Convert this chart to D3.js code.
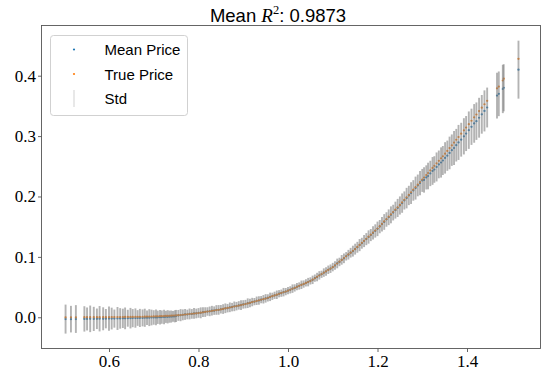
<!DOCTYPE html>
<html><head><meta charset="utf-8">
<script src="https://cdn.jsdelivr.net/npm/d3@7"></script>
<style>html,body{margin:0;padding:0;background:#fff}</style>
</head><body>
<script>
// ---- data ----
const xs = [
0.503,0.515,0.526,0.545,0.551,0.558,0.566,0.573,0.579,0.587,
0.593,0.600,0.606,0.612,0.619,0.625,0.631,0.636,0.642,0.648,
0.653,0.659,0.664,0.669,0.675,0.680,0.685,0.690,0.695,0.700,
0.705,0.709,0.714,0.718,0.723,0.727,0.731,0.735,0.739,0.743,
0.747,
0.750,0.755,0.760,0.765,0.770,0.775,0.780,0.785,0.790,0.795,
0.800,0.805,0.810,0.815,0.820,0.825,0.830,0.835,0.840,0.845,
0.850,0.855,0.860,0.865,0.870,0.875,0.880,0.885,0.890,0.895,
0.900,0.905,0.910,0.915,0.920,0.925,0.930,0.935,0.940,0.945,
0.950,0.955,0.960,0.965,0.970,0.975,0.980,0.985,0.990,0.995,
1.000,1.005,1.010,1.015,1.020,1.025,1.030,1.035,1.040,1.045,
1.050,1.055,1.060,1.065,1.070,1.075,1.080,1.085,1.090,1.095,
1.100,1.105,1.110,1.115,1.120,1.125,1.130,1.135,1.140,1.145,
1.150,1.155,1.160,1.165,1.170,1.175,1.180,1.185,1.190,1.195,
1.200,1.205,1.210,1.215,1.220,1.225,1.230,1.235,1.240,1.245,
1.250,1.255,1.260,1.265,1.270,1.275,1.280,1.285,1.290,1.295,
1.300,
1.304,1.309,1.313,1.318,1.323,1.327,1.332,1.337,1.342,1.346,
1.351,1.356,1.361,1.366,1.371,1.376,1.381,1.387,1.393,1.398,
1.404,1.410,1.416,1.421,1.427,1.433,1.439,1.445,
1.467,1.471,1.480,1.482,1.515
];
const truePrice = [
0,0,0,0.0001,0.0001,0.0001,0.0001,0.0001,0.0002,0.0002,
0.0002,0.0002,0.0003,0.0003,0.0003,0.0004,0.0004,0.0005,0.0005,0.0006,
0.0006,0.0007,0.0008,0.0008,0.0009,0.0010,0.0011,0.0012,0.0013,0.0014,
0.0015,0.0016,0.0018,0.0019,0.0020,0.0022,0.0023,0.0025,0.0026,0.0028,
0.0029,
0.0030,0.0034,0.0038,0.0042,0.0046,0.0050,0.0054,0.0058,0.0062,0.0066,
0.0070,0.0076,0.0082,0.0088,0.0094,0.0100,0.0106,0.0112,0.0118,0.0124,
0.0130,0.0138,0.0146,0.0154,0.0162,0.0170,0.0178,0.0186,0.0194,0.0202,
0.0210,0.0220,0.0230,0.0240,0.0250,0.0260,0.0270,0.0280,0.0290,0.0300,
0.0310,0.0323,0.0336,0.0349,0.0362,0.0375,0.0388,0.0401,0.0414,0.0427,
0.0440,0.0456,0.0472,0.0488,0.0504,0.0520,0.0536,0.0552,0.0568,0.0584,
0.0600,0.0623,0.0646,0.0669,0.0692,0.0715,0.0738,0.0761,0.0784,0.0807,
0.0830,0.0860,0.0890,0.0920,0.0950,0.0980,0.1010,0.1040,0.1070,0.1100,
0.1130,0.1164,0.1198,0.1232,0.1266,0.1300,0.1334,0.1368,0.1402,0.1436,
0.1470,0.1509,0.1548,0.1587,0.1626,0.1665,0.1704,0.1743,0.1782,0.1821,
0.1860,0.1902,0.1944,0.1986,0.2028,0.2070,0.2112,0.2154,0.2196,0.2238,
0.2280,
0.2314,0.2356,0.2389,0.2431,0.2473,0.2507,0.2549,0.2591,0.2633,0.2666,
0.2709,0.2755,0.2801,0.2847,0.2893,0.2939,0.2985,0.3040,0.3096,0.3142,
0.3198,0.3254,0.3310,0.3357,0.3414,0.3470,0.3527,0.3583,
0.379,0.382,0.392,0.395,0.428
];
const meanPrice = [
-0.0030,-0.0031,-0.0029,-0.0027,-0.0028,-0.0026,-0.0027,-0.0025,-0.0024,-0.0025,
-0.0023,-0.0022,-0.0021,-0.0022,-0.0020,-0.0019,-0.0018,-0.0018,-0.0016,-0.0015,
-0.0014,-0.0013,-0.0012,-0.0011,-0.0010,-0.0008,-0.0007,-0.0006,-0.0004,-0.0003,
-0.0002,0.0000,0.0002,0.0003,0.0005,0.0007,0.0008,0.0010,0.0012,0.0014,
0.0016,
0.0022,0.0031,0.0035,0.0040,0.0047,0.0046,0.0055,0.0056,0.0064,0.0063,
0.0072,0.0074,0.0085,0.0086,0.0096,0.0098,0.0109,0.0110,0.0121,0.0122,
0.0133,0.0136,0.0149,0.0151,0.0165,0.0168,0.0181,0.0184,0.0197,0.0200,
0.0213,0.0218,0.0233,0.0238,0.0252,0.0259,0.0273,0.0278,0.0292,0.0298,
0.0313,0.0321,0.0338,0.0347,0.0364,0.0373,0.0390,0.0399,0.0416,0.0425,
0.0442,0.0454,0.0474,0.0486,0.0506,0.0518,0.0538,0.0550,0.0570,0.0582,
0.0602,0.0620,0.0648,0.0666,0.0694,0.0712,0.0740,0.0758,0.0786,0.0804,
0.0831,0.0857,0.0891,0.0916,0.0951,0.0976,0.1010,0.1036,0.1069,0.1095,
0.1128,0.1159,0.1195,0.1226,0.1262,0.1294,0.1329,0.1361,0.1397,0.1429,
0.1464,0.1501,0.1541,0.1578,0.1619,0.1656,0.1696,0.1733,0.1774,0.1810,
0.1851,0.1890,0.1934,0.1973,0.2017,0.2056,0.2100,0.2139,0.2183,0.2222,
0.2266,
0.2274,0.2316,0.2339,0.2381,0.2423,0.2447,0.2489,0.2531,0.2563,0.2596,
0.2639,0.2675,0.2721,0.2767,0.2803,0.2849,0.2895,0.2940,0.2996,0.3042,
0.3098,0.3154,0.3210,0.3247,0.3304,0.3360,0.3417,0.3473,
0.367,0.370,0.378,0.380,0.410
];
const stdPrice = [
0.024,0.022,0.023,0.021,0.019,0.022,0.020,0.017,0.021,0.019,
0.016,0.020,0.018,0.015,0.019,0.017,0.016,0.018,0.014,0.017,
0.015,0.016,0.013,0.015,0.014,0.015,0.012,0.014,0.013,0.012,
0.013,0.011,0.012,0.011,0.012,0.010,0.011,0.010,0.010,0.009,
0.010,
0.010,0.009,0.010,0.009,0.009,0.008,0.009,0.008,0.009,0.008,
0.008,0.009,0.008,0.008,0.007,0.008,0.008,0.007,0.008,0.008,
0.007,0.008,0.008,0.007,0.008,0.007,0.008,0.007,0.007,0.008,
0.007,0.007,0.008,0.007,0.007,0.006,0.007,0.007,0.006,0.007,
0.007,0.006,0.007,0.006,0.006,0.007,0.006,0.006,0.007,0.006,
0.006,0.006,0.007,0.006,0.006,0.006,0.007,0.006,0.006,0.007,
0.006,0.007,0.006,0.007,0.007,0.006,0.007,0.007,0.007,0.007,
0.007,0.007,0.008,0.007,0.008,0.008,0.007,0.008,0.008,0.009,
0.009,0.009,0.010,0.009,0.010,0.010,0.011,0.010,0.011,0.011,
0.012,0.011,0.012,0.013,0.012,0.013,0.014,0.013,0.014,0.015,
0.015,0.016,0.015,0.017,0.016,0.018,0.017,0.019,0.018,0.020,
0.019,
0.021,0.020,0.022,0.021,0.023,0.022,0.024,0.023,0.025,0.024,
0.026,0.025,0.027,0.026,0.028,0.027,0.029,0.028,0.030,0.029,
0.031,0.030,0.032,0.031,0.033,0.032,0.034,0.033,
0.038,0.037,0.040,0.039,0.048
];
const xTicks = [0.6, 0.8, 1.0, 1.2, 1.4];
const yTicks = [0.0, 0.1, 0.2, 0.3, 0.4];
const titleText = {pre: "Mean ", sym: "R", sup: "2", post: ": 0.9873"};
const legendLabels = ["Mean Price", "True Price", "Std"];
const colMean = "#1f77b4", colTrue = "#ff7f0e", colStd = "#808080";

// ---- drawing ----
const W = 545, H = 371;
const L = 41.5, R = 540.5, T = 25.5, B = 348.5;
const svg = d3.select("body").append("svg").attr("width", W).attr("height", H);

const x = d3.scaleLinear().domain([0.4492, 1.5642]).range([L, R]);
const y = d3.scaleLinear().domain([-0.0517, 0.4831]).range([B, T]);

const n = Math.min(xs.length, truePrice.length, meanPrice.length, stdPrice.length);
const data = d3.range(n).map(i => ({x: xs[i], t: truePrice[i], m: meanPrice[i], s: stdPrice[i]}));

const plot = svg.append("g");
plot.append("g").selectAll("circle").data(data).join("circle")
  .attr("cx", d => x(d.x)).attr("cy", d => y(d.m)).attr("r", 1.1).attr("fill", colMean);
plot.append("g").selectAll("circle").data(data).join("circle")
  .attr("cx", d => x(d.x)).attr("cy", d => y(d.t)).attr("r", 1.1).attr("fill", colTrue);
plot.append("g").selectAll("line").data(data).join("line")
  .attr("x1", d => x(d.x)).attr("x2", d => x(d.x))
  .attr("y1", d => y(d.m - d.s)).attr("y2", d => y(d.m + d.s))
  .attr("stroke", colStd).attr("stroke-opacity", 0.6).attr("stroke-width", 1.9);

svg.append("rect").attr("x", L).attr("y", T).attr("width", R - L).attr("height", B - T)
  .attr("fill", "none").attr("stroke", "#555").attr("stroke-width", 0.9);

const fmt = d3.format(".1f");
const serif = "'Liberation Serif', 'DejaVu Serif', 'Times New Roman', serif";
const gx = svg.append("g").attr("transform", `translate(0,${B})`)
  .call(d3.axisBottom(x).tickValues(xTicks).tickFormat(fmt).tickSize(3.5).tickSizeOuter(0).tickPadding(3));
const gy = svg.append("g").attr("transform", `translate(${L},0)`)
  .call(d3.axisLeft(y).tickValues(yTicks).tickFormat(fmt).tickSize(3.5).tickSizeOuter(0).tickPadding(2));
[gx, gy].forEach(g => {
  g.attr("font-family", serif).attr("font-size", 17);
  g.select(".domain").remove();
  g.selectAll(".tick line").attr("stroke", "#555").attr("stroke-width", 0.9);
  g.selectAll(".tick text").attr("fill", "#000").attr("font-family", serif).attr("font-size", 17);
});

const title = svg.append("text").attr("x", 278).attr("y", 21.5).attr("text-anchor", "middle")
  .attr("font-family", "'Liberation Sans', Arial, sans-serif").attr("font-size", 18.5).attr("fill", "#000");
title.append("tspan").text(titleText.pre);
title.append("tspan").text(titleText.sym).attr("font-family", serif).attr("font-style", "italic").attr("font-size", 19);
title.append("tspan").text(titleText.sup).attr("dy", -7.5).attr("font-family", serif).attr("font-size", 12.5);
title.append("tspan").text(titleText.post).attr("dy", 7.5);

const lg = svg.append("g");
lg.append("rect").attr("x", 50.5).attr("y", 35.5).attr("width", 137).attr("height", 80).attr("rx", 3)
  .attr("fill", "#fff").attr("fill-opacity", 0.8).attr("stroke", "#cccccc").attr("stroke-width", 0.9);
const rows = [49.5, 74, 98.5];
lg.append("circle").attr("cx", 74).attr("cy", rows[0]).attr("r", 1.1).attr("fill", colMean);
lg.append("circle").attr("cx", 74).attr("cy", rows[1]).attr("r", 1.1).attr("fill", colTrue);
lg.append("line").attr("x1", 74).attr("x2", 74).attr("y1", rows[2] - 8.5).attr("y2", rows[2] + 8.5)
  .attr("stroke", colStd).attr("stroke-opacity", 0.3).attr("stroke-width", 1.2);
legendLabels.forEach((t, i) => {
  lg.append("text").attr("x", 104.5).attr("y", rows[i] + 5.5).text(t)
    .attr("font-family", "'Liberation Sans', Arial, sans-serif").attr("font-size", 15).attr("fill", "#000");
});
</script>
</body></html>
